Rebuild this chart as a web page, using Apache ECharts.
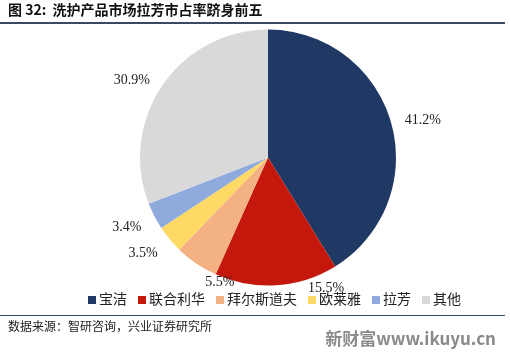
<!DOCTYPE html>
<html>
<head>
<meta charset="utf-8">
<script src="https://cdn.jsdelivr.net/npm/echarts@6/dist/echarts.min.js"></script>
<style>
    html, body {margin: 0; padding: 0; background: #fff;}
    #chart {width: 510px; height: 354px;}
</style>
</head>
<body>
<div id="chart"></div>
<script>
const brands = ["宝洁", "联合利华", "拜尔斯道夫", "欧莱雅", "拉芳", "其他"];
const shares = [41.2, 15.5, 5.5, 3.5, 3.4, 30.9];
const colors = ["#203864", "#C5180D", "#F4B183", "#FFD966", "#8FAADC", "#D9D9D9"];
// 个别标签在原图里被手动挪过
const labelShift = {"联合利华": [26, -6], "拜尔斯道夫": [48, 11], "欧莱雅": [0, 8], "拉芳": [0, 7]};

const chart = echarts.init(document.getElementById("chart"));
const serif = "'Liberation Serif', 'Noto Sans CJK SC', serif";

chart.setOption({
    animation: false,
    color: colors,
    legend: {
        bottom: 42,
        left: 83,
        itemWidth: 8,
        itemHeight: 8,
        itemGap: 11,
        icon: "rect",
        textStyle: {fontSize: 14, color: "#222", fontFamily: serif, padding: [0, 0, 0, -2]},
        data: brands
    },
    series: [{
        type: "pie",
        center: [268, 157.5],
        radius: [0, 128],
        startAngle: 90,
        clockwise: true,
        label: {
            position: "outside",
            formatter: p => p.value.toFixed(1) + "%",
            fontSize: 14,
            color: "#222",
            fontFamily: serif
        },
        labelLine: {show: false, length: 9, length2: 0},
        data: brands.map((name, i) => ({
            name,
            value: shares[i],
            label: labelShift[name] ? {offset: labelShift[name]} : undefined
        }))
    }],
    graphic: [
        {type: "text", left: 8, top: 3, style: {text: "图 32:  洗护产品市场拉芳市占率跻身前五", font: "bold 14px 'Noto Sans CJK SC'", fill: "#111"}},
        {type: "rect", left: 0, top: 22, shape: {width: 505, height: 2}, style: {fill: "#3A4A63"}},
        {type: "rect", left: 0, top: 315, shape: {width: 505, height: 1}, style: {fill: "#3A4A63"}},
        {type: "text", left: 8, top: 320, style: {text: "数据来源：智研咨询，兴业证券研究所", font: "12px 'Noto Sans CJK SC'", fill: "#222"}},
        {type: "text", right: 14, top: 330, style: {text: "新财富www.ikuyu.cn", font: "bold 17px 'Noto Sans CJK SC'", fill: "#8a8a8a"}}
    ]
});
</script>
</body>
</html>
